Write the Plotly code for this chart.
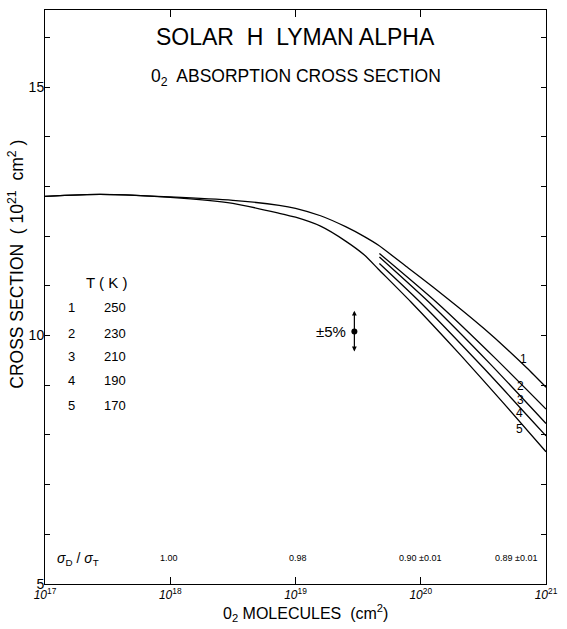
import plotly.graph_objects as go

# ---- data ----
# log10 of O2 column (cm^-2) and cross section (10^-21 cm^2)
c1_logn = [17.0, 17.44, 18.0, 18.5, 18.87, 19.0, 19.2, 19.4, 19.55, 19.66, 19.9, 20.1,
           20.3, 20.5, 20.7, 20.85, 21.0]
c1_sig = [12.80, 12.84, 12.79, 12.72, 12.62, 12.56, 12.41, 12.19, 11.99, 11.82, 11.36, 10.97,
          10.57, 10.15, 9.70, 9.34, 8.96]

c2_logn = [19.67, 20.13, 20.6, 21.0]
c2_sig = [11.65, 10.66, 9.53, 8.52]

c3_logn = [19.67, 20.07, 20.55, 21.0]
c3_sig = [11.58, 10.66, 9.44, 8.23]

c4_logn = [19.67, 20.0, 20.5, 21.0]
c4_sig = [11.45, 10.66, 9.35, 7.98]

c5_logn = [17.0, 17.44, 18.0, 18.5, 18.87, 19.0, 19.2, 19.4, 19.55, 19.66, 19.92, 20.32,
           20.65, 21.0]
c5_sig = [12.80, 12.84, 12.78, 12.66, 12.46, 12.38, 12.20, 11.90, 11.62, 11.34, 10.68, 9.60,
          8.67, 7.66]

curve_ids = ["1", "2", "3", "4", "5"]
temps = ["250", "230", "210", "190", "170"]
label_logn = [20.82, 20.80, 20.80, 20.79, 20.79]
label_sig = [9.53, 8.99, 8.71, 8.44, 8.12]

ratio_logn = [17.99, 19.02, 19.99, 20.76]
ratio_text = ["1.00", "0.98", "0.90 \u00b10.01", "0.89 \u00b10.01"]

err_logn = 19.47
err_sig = 10.08
err_top = 10.5
err_bottom = 9.68

table_head_y = 11.07
row_y = [10.57, 10.05, 9.58, 9.09, 8.59]

x_ticks = [17, 18, 19, 20, 21]
y_ticks = list(range(5, 17))
y_ticktext = ["5", "", "", "", "", "10", "", "", "", "", "15", ""]

FONT = "Liberation Sans, Arial, sans-serif"

fig = go.Figure()
line = dict(color="black", width=1.3, shape="spline", smoothing=0.6)
for lx, ly in [(c1_logn, c1_sig), (c2_logn, c2_sig), (c3_logn, c3_sig),
               (c4_logn, c4_sig), (c5_logn, c5_sig)]:
    fig.add_trace(go.Scatter(x=[10.0 ** v for v in lx], y=ly, mode="lines",
                             line=line, showlegend=False, hoverinfo="skip"))

# error bar dot
fig.add_trace(go.Scatter(x=[10.0 ** err_logn], y=[err_sig], mode="markers",
                         marker=dict(color="black", size=6), showlegend=False,
                         hoverinfo="skip"))

ann = []
# error bar arrows
for yend in (err_top, err_bottom):
    ann.append(dict(x=err_logn, y=yend, ax=err_logn, ay=err_sig,
                    xref="x", yref="y", axref="x", ayref="y", showarrow=True,
                    arrowhead=2, arrowsize=0.8, arrowwidth=1.2, arrowcolor="black", text=""))
ann.append(dict(x=err_logn - 0.05, y=err_sig, xref="x", yref="y", text="\u00b15%",
                showarrow=False, xanchor="right", yanchor="middle",
                font=dict(size=15, family=FONT, color="black")))

# curve labels
for cid, lx, ly in zip(curve_ids, label_logn, label_sig):
    ann.append(dict(x=lx, y=ly, xref="x", yref="y", text=cid, showarrow=False,
                    font=dict(size=12, family=FONT, color="black")))

# temperature table
ann.append(dict(x=17.49, y=table_head_y, xref="x", yref="y", text="T ( K )", showarrow=False,
                font=dict(size=15, family=FONT, color="black")))
for cid, t, ry in zip(curve_ids, temps, row_y):
    ann.append(dict(x=17.21, y=ry, xref="x", yref="y", text=cid, showarrow=False,
                    font=dict(size=13, family=FONT, color="black")))
    ann.append(dict(x=17.66, y=ry, xref="x", yref="y", text=t, showarrow=False,
                    xanchor="right", font=dict(size=13, family=FONT, color="black")))

# sigma ratio row
ann.append(dict(x=17.26, y=5.5, xref="x", yref="y",
                text="<i>\u03c3</i><sub>D</sub> / <i>\u03c3</i><sub>T</sub>", showarrow=False,
                font=dict(size=14, family=FONT, color="black")))
for lx, t in zip(ratio_logn, ratio_text):
    ann.append(dict(x=lx, y=5.52, xref="x", yref="y", text=t, showarrow=False,
                    font=dict(size=9, family=FONT, color="black")))

# titles
ann.append(dict(x=0.5, y=(584 - 36) / 575, xref="paper", yref="paper",
                text="SOLAR  H  LYMAN ALPHA", showarrow=False, yanchor="middle",
                font=dict(size=23, family=FONT, color="black")))
ann.append(dict(x=0.5, y=(584 - 77) / 575, xref="paper", yref="paper",
                text="0<sub>2</sub>  ABSORPTION CROSS SECTION", showarrow=False, yanchor="middle",
                font=dict(size=17.5, family=FONT, color="black")))
# axis titles
ann.append(dict(x=(307 - 45) / 504, y=-(613 - 584) / 575, xref="paper", yref="paper",
                text="0<sub>2</sub> MOLECULES  (cm<sup>2</sup>)", showarrow=False, yanchor="middle",
                font=dict(size=16, family=FONT, color="black")))
ann.append(dict(x=(15 - 45) / 504, y=(584 - 264) / 575, xref="paper", yref="paper",
                text="CROSS SECTION  ( 10<sup>21</sup>  cm<sup>2</sup> )", showarrow=False,
                textangle=-90, xanchor="center", yanchor="middle",
                font=dict(size=17.5, family=FONT, color="black")))

fig.update_layout(
    width=567, height=629,
    margin=dict(l=45, r=18, t=9, b=45),
    paper_bgcolor="white", plot_bgcolor="white",
    annotations=ann,
    showlegend=False,
)
fig.update_xaxes(type="log", range=[17, 21], showgrid=False, zeroline=False,
                 showline=True, linecolor="black", linewidth=1, mirror="ticks",
                 ticks="inside", ticklen=7, tickcolor="black",
                 tickvals=[10.0 ** v for v in x_ticks],
                 ticktext=["<i>10</i><sup>%d</sup>" % v for v in x_ticks],
                 tickfont=dict(size=12, family=FONT, color="black"))
fig.update_yaxes(range=[5, 16.55], showgrid=False, zeroline=False,
                 showline=True, linecolor="black", linewidth=1, mirror="ticks",
                 ticks="inside", ticklen=5, tickcolor="black",
                 tickvals=y_ticks, ticktext=y_ticktext, ticklabelstandoff=-3,
                 tickfont=dict(size=14, family=FONT, color="black"))

fig.write_html("out.html")
